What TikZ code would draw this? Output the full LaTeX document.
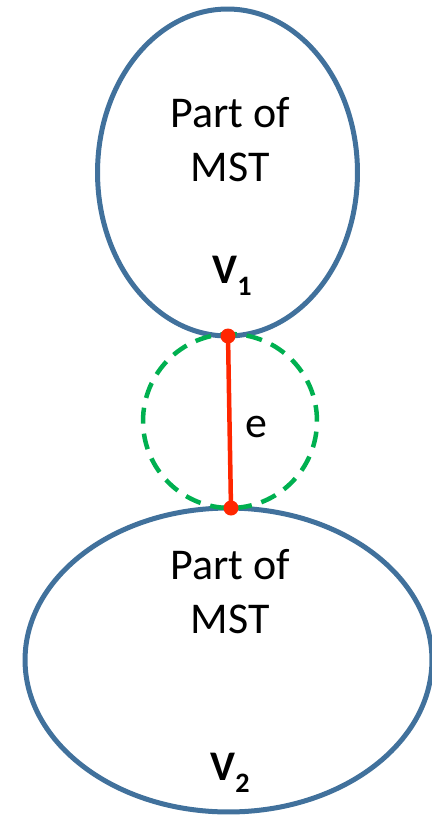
\documentclass[tikz,border=0pt]{standalone}
\usepackage{fontspec}
\setmainfont{Carlito}
\usetikzlibrary{shapes.geometric}
\definecolor{mstblue}{RGB}{65,113,156}
\definecolor{cutgreen}{RGB}{0,176,80}
\definecolor{edgered}{RGB}{255,38,0}
\newcommand{\vsub}[1]{\raisebox{-0.24cm}{\fontsize{16}{18}\selectfont #1}}

\begin{document}
\begin{tikzpicture}[x=0.02cm,y=-0.02cm,
  part/.style={ellipse,draw=mstblue,line width=0.1cm,inner sep=0pt},
  lbl/.style={font=\fontsize{25}{30.7}\selectfont,align=center,inner sep=0pt},
  vlbl/.style={font=\fontsize{24}{27}\selectfont\bfseries,inner sep=0pt,anchor=base}]
\useasboundingbox (0,0) rectangle (432,815);
% two parts of the MST
\node[part,minimum width=5.2cm,minimum height=6.54cm] (upper) at (227.5,172.5) {};
\node[part,minimum width=8.14cm,minimum height=6.08cm] (lower) at (228.5,660) {};
\node[lbl,anchor=base] (uppertext) at (230,181) {Part of\\MST};
\node[lbl,anchor=base] (lowertext) at (230,633) {Part of\\MST};
\node[vlbl] (v1) at (232,283) {V\vsub{1}};
\node[vlbl] (v2) at (230,780) {V\vsub{2}};
% cut circle
\node[circle,draw=cutgreen,line width=0.09cm,dash pattern=on 0.32cm off 0.2cm,
  minimum size=3.48cm,inner sep=0pt] (cut) at (230,421) {};
% crossing edge
\coordinate (ea) at (228,336);
\coordinate (eb) at (231,508);
\draw[edgered,line width=0.09cm] (ea) -- (eb);
\fill[edgered] (ea) circle (0.15cm) (eb) circle (0.15cm);
\node[lbl,anchor=base] (elbl) at (256,437) {e};
\end{tikzpicture}
\end{document}
